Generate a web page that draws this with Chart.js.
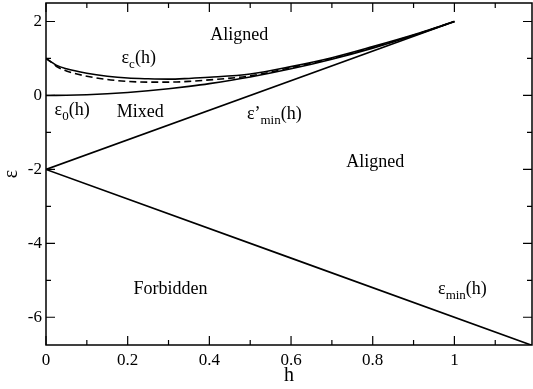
<!DOCTYPE html>
<html><head><meta charset="utf-8">
<script src="https://cdn.jsdelivr.net/npm/chart.js@4/dist/chart.umd.min.js"></script>
<style>html,body{margin:0;padding:0;background:#fff}#wrap{width:533px;height:389px}</style>
</head><body><div id="wrap"><canvas id="c"></canvas></div>
<script>
// ---- data ----
const hValues   = [0, 0.01, 0.025, 0.05, 0.1, 0.15, 0.2, 0.25, 0.3, 0.35, 0.4, 0.5, 0.6, 0.7, 0.8, 0.9, 1.0];
const epsC      = [1.0, 0.93, 0.82, 0.72, 0.60, 0.52, 0.47, 0.45, 0.44, 0.46, 0.49, 0.58, 0.78, 1.02, 1.32, 1.64, 2.0];
const epsCdash  = [1.0, 0.92, 0.79, 0.66, 0.52, 0.43, 0.38, 0.36, 0.36, 0.38, 0.42, 0.53, 0.75, 1.00, 1.30, 1.63, 2.0];
const eps0      = [0, 0, 0.001, 0.005, 0.02, 0.045, 0.08, 0.125, 0.18, 0.245, 0.32, 0.5, 0.72, 0.98, 1.28, 1.62, 2.0];
const hMinLine  = [0, 1.19];
const epsMin    = [-2, -6.76];
const hMinPLine = [0, 1.0];
const epsMinP   = [-2, 2];
const xTicks = [0, 0.2, 0.4, 0.6, 0.8, 1];
const xMinorTicks = [0.1, 0.3, 0.5, 0.7, 0.9, 1.1];
const yTicks = [-6, -4, -2, 0, 2];
const yMinorTicks = [-5, -3, -1, 1];
const textLabels = [
  {parts:[['Aligned']], x:0.402, y:1.50},
  {parts:[['ε'],['c',1],['(h)']], x:0.185, y:0.89},
  {parts:[['ε'],['0',1],['(h)']], x:0.021, y:-0.54},
  {parts:[['Mixed']], x:0.173, y:-0.58},
  {parts:[['ε’'],['min',1],['(h)']], x:0.492, y:-0.63},
  {parts:[['Aligned']], x:0.735, y:-1.93},
  {parts:[['Forbidden']], x:0.214, y:-5.38},
  {parts:[['ε'],['min',1],['(h)']], x:0.96, y:-5.38}
];

const pts = (xs, ys) => xs.map((x, i) => ({x, y: ys[i]}));
const FONT = '"Liberation Serif", "Times New Roman", serif';

const lineDs = (data, dash) => ({
  data, borderColor:'#000', borderWidth:1.6, pointRadius:0, fill:false,
  cubicInterpolationMode:'monotone', borderDash: dash || []
});

const framePlugin = {
  id:'frame',
  afterDatasetsDraw(chart){
    const {ctx, chartArea:{left,right,top,bottom}, scales:{x,y}} = chart;
    ctx.save();
    ctx.strokeStyle = '#000'; ctx.lineWidth = 1.5;
    ctx.strokeRect(left, top, right-left, bottom-top);
    ctx.lineWidth = 1.2;
    const tk = (vals, len) => {
      vals.forEach(v => {
        const px = x.getPixelForValue(v);
        ctx.beginPath();
        ctx.moveTo(px, bottom); ctx.lineTo(px, bottom-len);
        ctx.moveTo(px, top); ctx.lineTo(px, top+len);
        ctx.stroke();
      });
    };
    const tky = (vals, len) => {
      vals.forEach(v => {
        const py = y.getPixelForValue(v);
        ctx.beginPath();
        ctx.moveTo(left, py); ctx.lineTo(left+len, py);
        ctx.moveTo(right, py); ctx.lineTo(right-len, py);
        ctx.stroke();
      });
    };
    tk(xTicks, 9); tk(xMinorTicks, 5);
    tky(yTicks, 9); tky(yMinorTicks, 5);
    ctx.restore();
  }
};

const labelPlugin = {
  id:'labels',
  afterDraw(chart){
    const {ctx, scales:{x,y}} = chart;
    ctx.save();
    ctx.fillStyle = '#000';
    ctx.textBaseline = 'alphabetic';
    ctx.textAlign = 'left';
    textLabels.forEach(l => {
      let px = x.getPixelForValue(l.x);
      const py = y.getPixelForValue(l.y);
      l.parts.forEach(([t, sub]) => {
        ctx.font = (sub ? '13px ' : '18px ') + FONT;
        ctx.fillText(t, px, py + (sub ? 5 : 0));
        px += ctx.measureText(t).width;
      });
    });
    ctx.restore();
  }
};

new Chart(document.getElementById('c'), {
  type:'line',
  data:{ datasets:[
    lineDs(pts(hValues, epsC)),
    lineDs(pts(hValues, epsCdash), [7,4]),
    lineDs(pts(hValues, eps0)),
    lineDs(pts(hMinLine, epsMin)),
    lineDs(pts(hMinPLine, epsMinP))
  ]},
  options:{
    responsive:true, maintainAspectRatio:false, animation:false, devicePixelRatio:1,
    layout:{padding:{top:3, right:1, left:0, bottom:0}},
    plugins:{legend:{display:false}, tooltip:{enabled:false}},
    scales:{
      x:{
        type:'linear', min:0, max:1.19,
        afterBuildTicks: s => { s.ticks = xTicks.map(v => ({value:v})); },
        afterFit: s => { s.height = 44; s.paddingLeft = 0; s.paddingRight = 0; },
        ticks:{color:'#000', font:{family:FONT, size:17}, padding:5, maxRotation:0,
               callback: v => String(+(+v).toFixed(2))},
        grid:{display:false, drawTicks:false}, border:{display:false},
        title:{display:true, text:'h', color:'#000', font:{family:FONT, size:20}, padding:{top:0, bottom:1}}
      },
      y:{
        type:'linear', min:-6.75, max:2.5,
        afterBuildTicks: s => { s.ticks = yTicks.map(v => ({value:v})); },
        afterFit: s => { s.width = 46; s.paddingTop = 0; s.paddingBottom = 0; },
        ticks:{color:'#000', font:{family:FONT, size:17}, padding:4,
               callback: v => String(v)},
        grid:{display:false, drawTicks:false}, border:{display:false},
        title:{display:true, text:'ε', color:'#000', font:{family:FONT, size:20}, padding:0}
      }
    }
  },
  plugins:[framePlugin, labelPlugin]
});
</script>
</body></html>
